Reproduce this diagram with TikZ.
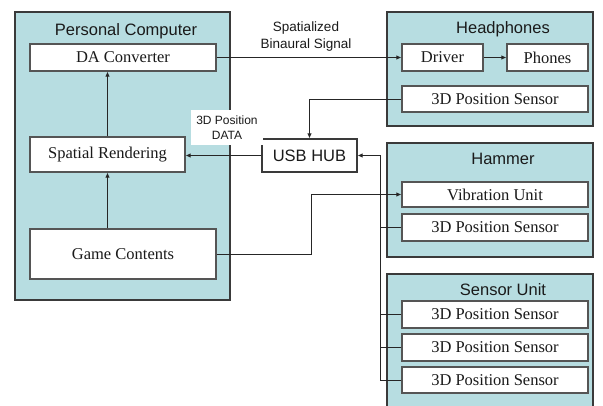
\documentclass[tikz,border=0pt]{standalone}
\usepackage{fontspec}
\setmainfont{Liberation Serif}
\setsansfont{Liberation Sans}
\usetikzlibrary{arrows.meta,positioning}
\definecolor{groupfill}{HTML}{B7DDE1}
\definecolor{groupline}{HTML}{3A3A3A}
\definecolor{boxline}{HTML}{555555}
\definecolor{inktext}{HTML}{1A1A1A}
\tikzset{
  group/.style={draw=groupline, line width=1.1pt, fill=groupfill},
  grouptitle/.style={font=\sffamily\fontsize{16.5}{18}\selectfont, text=inktext, inner sep=0pt},
  unit/.style={draw=boxline, line width=1.1pt, fill=white, inner sep=0pt,
    font=\rmfamily\fontsize{16.5}{18}\selectfont, text=inktext},
  hub/.style={draw=groupline, line width=1.1pt, fill=white, inner sep=0pt,
    font=\sffamily\fontsize{16.5}{18}\selectfont, text=inktext},
  note/.style={font=\sffamily\fontsize{12}{15.5}\selectfont, text=inktext, align=center},
  wire/.style={draw=black!85, line width=0.9pt},
  arr/.style={wire, -{Latex[length=5pt,width=4.5pt]}}
}
\begin{document}
\begin{tikzpicture}[x=1pt,y=-1pt]
\useasboundingbox (0,0) rectangle (603,406);

% group frames
\draw[group] (15,12) rectangle (230,300);
\draw[group] (387,12) rectangle (593,126);
\draw[group] (387,143) rectangle (593,257);
\draw[group] (387,274) rectangle (593,412);

\node[grouptitle] (pct) at (126,31) {Personal Computer};
\node[grouptitle] (hpt) at (503,29) {Headphones};
\node[grouptitle] (hmt) at (503,159) {Hammer};
\node[grouptitle] (sut) at (503,290) {Sensor Unit};

% personal computer
\node[unit, minimum width=186pt, minimum height=27pt] (da) at (123,57.5) {DA Converter};
\node[unit, minimum width=155pt, minimum height=35pt] (sr) at (107.5,154.5) {Spatial Rendering};
\node[unit, minimum width=186pt, minimum height=50pt] (gc) at (123,254) {Game Contents};

% hub
\node[hub, minimum width=95pt, minimum height=33pt] (usb) at (309.5,155.5) {USB HUB};

% headphones
\node[unit, minimum width=81pt, minimum height=27pt] (drv) at (442.5,57.5) {Driver};
\node[unit, minimum width=81pt, minimum height=27pt] (ph) at (547.5,57.5) {Phones};
\node[unit, minimum width=186pt, minimum height=26pt] (hps) at (495,99) {3D Position Sensor};

% hammer
\node[unit, minimum width=186pt, minimum height=25pt] (vib) at (495,194.5) {Vibration Unit};
\node[unit, minimum width=186pt, minimum height=27pt] (hms) at (495,227.5) {3D Position Sensor};

% sensor unit
\node[unit, minimum width=186pt, minimum height=27pt] (s1) at (495,314.5) {3D Position Sensor};
\node[unit, minimum width=186pt, minimum height=27pt] (s2) at (495,347.5) {3D Position Sensor};
\node[unit, minimum width=186pt, minimum height=26pt] (s3) at (495,380) {3D Position Sensor};

% labels
\node[note, font=\sffamily\fontsize{13.5}{17}\selectfont] (lsig) at (306,36.5) {Spatialized\\Binaural Signal};
\node[note, fill=white, minimum width=72pt, minimum height=35pt, inner sep=0pt] (lpos) at (227,127.5) {3D Position\\DATA};

% signal path inside the computer
\draw[arr] (gc.north -| sr.south) -- (sr.south);
\draw[arr] (sr.north) -- (sr.north |- da.south);

% audio to headphones
\draw[arr] (da.east) -- (drv.west);
\draw[arr] (drv.east) -- (ph.west);

% position data to hub
\draw[arr] (hps.west) -| (usb.north);
\draw[arr] (usb.west) -- (usb.west -| sr.east);

% game contents to vibration unit
\coordinate (gcturn) at (311,254);
\draw[arr] (gc.east) -- (gcturn) |- (vib.west);

% sensor bus
\coordinate (bus) at (380,0);
\draw[arr] (s3.west) -- (s3.west -| bus) -- (usb.east -| bus) -- (usb.east);
\draw[wire] (s2.west) -- (s2.west -| bus);
\draw[wire] (s1.west) -- (s1.west -| bus);
\draw[wire] (hms.west) -- (hms.west -| bus);
\end{tikzpicture}
\end{document}
